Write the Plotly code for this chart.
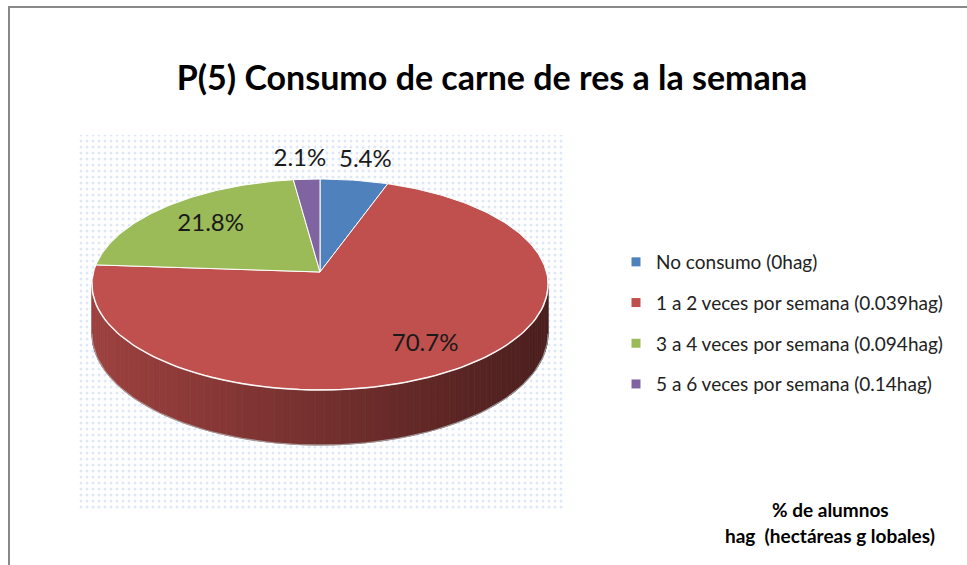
import numpy as np
import plotly.graph_objects as go

# data
categories = [
    "No consumo (0hag)",
    "1 a 2 veces por semana (0.039hag)",
    "3 a 4 veces por semana (0.094hag)",
    "5 a 6 veces por semana (0.14hag)",
]
percentages = [5.4, 70.7, 21.8, 2.1]
colors = ["#4F81BD", "#C0504D", "#9BBB59", "#8064A2"]
title = "P(5) Consumo de carne de res a la semana"
note_lines = ["% de alumnos", "hag&nbsp; (hectáreas g lobales)"]

W, H = 967, 565
FONT = "Lato, 'Open Sans', sans-serif"

# pie geometry (pixel space), a fake 3D pie like Excel draws it
CX, CY = 320, 272       # apex of the slices
RX, RY = 226.4, 104     # ellipse radii
PERSP = 0.1186          # perspective, front looks bigger
DEPTH = 48.5            # thickness of the disc


def rim(theta_deg, r=1.0, drop=0.0):
    t = np.radians(theta_deg)
    s = 1.0 / (1.0 + PERSP * r * np.cos(t))
    x = CX + RX * r * np.sin(t) * s
    y = CY - RY * r * np.cos(t) * s + drop * s
    return x, y


def hex_rgb(h):
    h = h.lstrip("#")
    return [int(h[i:i + 2], 16) for i in (0, 2, 4)]


fig = go.Figure()

# plot area with the dotted fill
fig.add_trace(go.Scatter(
    x=[77, 565, 565, 77, 77], y=[135, 135, 510, 510, 135],
    mode="lines", fill="toself", line=dict(width=0),
    fillcolor="white",
    fillpattern=dict(shape=".", fgcolor="#bdd0ee", bgcolor="white",
                     size=6, solidity=0.2),
    hoverinfo="skip", showlegend=False,
))

starts = np.concatenate([[0], np.cumsum(percentages)[:-1]]) * 3.6
ends = np.cumsum(percentages) * 3.6

# side of the disc, drawn in thin strips so it can be shaded
sil = np.degrees(np.arccos(-PERSP))
side_angles = np.linspace(sil, 360 - sil, 90)
xl, _ = rim(360 - sil)
xr, _ = rim(sil)
for a0, a1 in zip(side_angles[:-1], side_angles[1:]):
    mid = (a0 + a1) / 2
    k = int(np.searchsorted(ends, mid))
    k = min(k, len(colors) - 1)
    xm, _ = rim(mid)
    f = 0.82 - 0.43 * (xm - xl) / (xr - xl)
    rgb = [int(c * f) for c in hex_rgb(colors[k])]
    col = "rgb(%d,%d,%d)" % tuple(rgb)
    x0, y0 = rim(a0)
    x1, y1 = rim(a1)
    x2, y2 = rim(a1, drop=DEPTH)
    x3, y3 = rim(a0, drop=DEPTH)
    fig.add_trace(go.Scatter(
        x=[x0, x1, x2, x3, x0], y=[y0, y1, y2, y3, y0],
        mode="lines", fill="toself", fillcolor=col,
        line=dict(color=col, width=0.8),
        hoverinfo="skip", showlegend=False,
    ))

# bottom edge and front highlight
bx, by = rim(side_angles, drop=DEPTH)
fig.add_trace(go.Scatter(x=bx, y=by, mode="lines",
                         line=dict(color="rgba(170,170,170,0.8)", width=1.2),
                         hoverinfo="skip", showlegend=False))

# top faces
for i, (cat, v) in enumerate(zip(categories, percentages)):
    arc = np.linspace(starts[i], ends[i], max(int(v * 3.6), 2) + 1)
    ax, ay = rim(arc)
    fig.add_trace(go.Scatter(
        x=np.concatenate([[CX], ax, [CX]]),
        y=np.concatenate([[CY], ay, [CY]]),
        mode="lines", fill="toself", fillcolor=colors[i],
        line=dict(color="white", width=1),
        name=cat, hoverinfo="name", showlegend=False,
    ))

hx, hy = rim(side_angles)
fig.add_trace(go.Scatter(x=hx, y=hy, mode="lines",
                         line=dict(color="rgba(255,255,255,0.75)", width=1.6),
                         hoverinfo="skip", showlegend=False))

# data labels (small slices outside, pushed a little away from each other)
lx, ly = [], []
for i, v in enumerate(percentages):
    mid = (starts[i] + ends[i]) / 2
    r = 1.24 if v < 10 else (0.78 if v > 50 else 0.70)
    x, y = rim(mid, r)
    if v < 10:
        x += 4 if np.sin(np.radians(mid)) > 0 else -4
    lx.append(x)
    ly.append(y)
fig.add_trace(go.Scatter(
    x=lx, y=ly, mode="text", text=[f"{v}%" for v in percentages],
    textposition="middle center",
    textfont=dict(family=FONT, size=24, color="#1a1a1a"),
    hoverinfo="skip", showlegend=False,
))

# legend entries
for i, cat in enumerate(categories):
    fig.add_trace(go.Scatter(
        x=[None], y=[None], mode="markers", name=cat,
        legendgroup=str(i),
        marker=dict(symbol="square", size=9, color=colors[i]),
    ))

fig.update_layout(
    width=W, height=H,
    margin=dict(l=0, r=0, t=0, b=0, pad=0),
    paper_bgcolor="white", plot_bgcolor="white",
    xaxis=dict(range=[0, W], visible=False, fixedrange=True),
    yaxis=dict(range=[H, 0], visible=False, fixedrange=True),
    title=dict(text="<b>" + title + "</b>", x=492 / W, xanchor="center",
               y=1 - 78 / H, yanchor="middle",
               font=dict(family=FONT, size=34, color="black")),
    legend=dict(x=616 / W, y=1 - 243 / H, xanchor="left", yanchor="top",
                font=dict(family=FONT, size=19, color="#222222"),
                tracegroupgap=13, bgcolor="rgba(0,0,0,0)"),
    showlegend=True,
    shapes=[
        dict(type="line", xref="x", yref="y", x0=9, x1=9, y0=6, y1=H,
             line=dict(color="#898989", width=2)),
        dict(type="line", xref="x", yref="y", x0=8, x1=W, y0=7, y1=7,
             line=dict(color="#898989", width=2)),
    ],
)

for txt, yy in zip(note_lines, [509, 535]):
    fig.add_annotation(x=830, y=yy, xref="x", yref="y", text="<b>" + txt + "</b>",
                       showarrow=False, xanchor="center", yanchor="middle",
                       font=dict(family=FONT, size=19, color="black"))

fig.write_html("out.html", config={"displayModeBar": False},
               post_script="document.body.style.margin='0';")
